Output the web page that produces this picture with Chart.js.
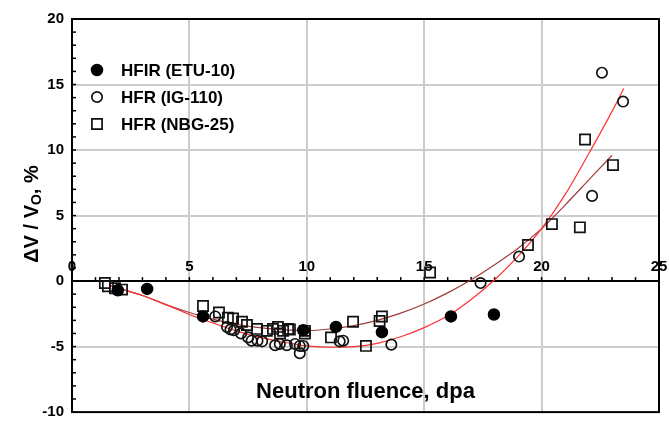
<!DOCTYPE html>
<html>
<head>
<meta charset="utf-8">
<script src="https://cdn.jsdelivr.net/npm/chart.js@4.4.0/dist/chart.umd.min.js"></script>
<style>
  html, body { margin: 0; padding: 0; background: #fff; }
  #wrap { width: 669px; height: 421px; position: relative; }
</style>
</head>
<body>
<div id="wrap"><canvas id="chart"></canvas></div>
<script>
const etuX = [1.95, 3.2, 5.58, 9.85, 11.24, 13.2, 16.14, 17.97];
const etuY = [-0.7, -0.6, -2.7, -3.75, -3.5, -3.9, -2.7, -2.55];

const igX = [6.1, 6.6, 6.75, 6.9, 7.2, 7.5, 7.65, 7.9, 8.1, 8.65, 8.85, 9.15, 9.5, 9.7, 9.7, 9.85, 11.4, 11.55, 13.6, 17.4, 19.04, 22.15, 22.57, 23.47];
const igY = [-2.7, -3.5, -3.7, -3.75, -4.0, -4.3, -4.55, -4.55, -4.6, -4.9, -4.8, -4.9, -4.8, -4.95, -5.5, -4.95, -4.6, -4.55, -4.85, -0.15, 1.87, 6.5, 15.9, 13.7];

const nbgX = [1.4, 1.53, 1.83, 2.13, 5.58, 6.26, 6.64, 6.86, 7.24, 7.45, 7.88, 8.3, 8.56, 8.77, 8.86, 8.99, 9.2, 9.28, 9.92, 9.92, 11.03, 11.97, 12.52, 13.1, 13.2, 15.25, 19.42, 20.44, 21.63, 21.85, 23.04];
const nbgY = [-0.15, -0.4, -0.55, -0.65, -1.9, -2.4, -2.8, -2.85, -3.1, -3.35, -3.65, -3.8, -3.65, -3.5, -4.0, -3.8, -3.65, -3.7, -3.8, -4.0, -4.3, -3.1, -4.95, -3.05, -2.7, 0.65, 2.75, 4.35, 4.1, 10.8, 8.85];

// fit curves
const fitAX = [1.6, 3, 4, 5, 6, 7, 8, 9, 10, 11, 12, 13, 14, 15, 16, 17, 18, 19, 20, 21, 22, 23, 23.5];
const fitAY = [-0.35, -1.1, -1.8, -2.55, -3.2, -3.8, -4.3, -4.65, -4.95, -5.05, -5.0, -4.75, -4.25, -3.55, -2.65, -1.4, 0.1, 1.9, 4.0, 6.6, 9.7, 12.95, 14.7];
const fitBX = [1.6, 3, 4, 5, 6, 7, 8, 9, 10, 11, 12, 13, 14, 15, 16, 17, 18, 19, 20, 21, 22, 23];
const fitBY = [-0.35, -1.1, -1.8, -2.4, -2.9, -3.3, -3.55, -3.72, -3.78, -3.65, -3.4, -3.0, -2.45, -1.75, -0.9, 0.1, 1.25, 2.5, 4.0, 5.8, 7.7, 9.6];

const xTicks = [0, 5, 10, 15, 20, 25];
const yTicks = [-10, -5, 0, 5, 10, 15, 20];

const pts = (xs, ys) => xs.map((x, i) => ({ x: x, y: ys[i] }));
const FONT = '"Liberation Sans", Arial, sans-serif';

// frame, minor ticks and axis titles
const decor = {
    id: 'decor',
    beforeDatasetsDraw(chart) {
        const { ctx, chartArea: a, scales: { x, y } } = chart;
        ctx.save();
        ctx.strokeStyle = '#000';
        ctx.lineWidth = 1.5;
        const y0 = y.getPixelForValue(0);
        for (let v = -10; v <= 20; v++) {
            const py = y.getPixelForValue(v);
            ctx.beginPath(); ctx.moveTo(a.left, py); ctx.lineTo(a.left + 4, py); ctx.stroke();
        }
        for (let v = 0; v <= 25; v++) {
            const px = x.getPixelForValue(v);
            ctx.beginPath(); ctx.moveTo(px, y0); ctx.lineTo(px, y0 - 4); ctx.stroke();
        }
        ctx.lineWidth = 2;
        ctx.strokeRect(a.left, a.top, a.right - a.left, a.bottom - a.top);
        ctx.restore();
    },
    afterDraw(chart) {
        const { ctx, chartArea: a } = chart;
        ctx.save();
        ctx.fillStyle = '#000';
        // x title
        ctx.font = 'bold 22px ' + FONT;
        ctx.textAlign = 'center';
        ctx.textBaseline = 'middle';
        ctx.fillText('Neutron fluence, dpa', (a.left + a.right) / 2, 392);
        // y title with subscript
        ctx.translate(32, 214);
        ctx.rotate(-Math.PI / 2);
        ctx.textAlign = 'left';
        ctx.textBaseline = 'middle';
        const big = 'bold 20px ' + FONT, small = 'bold 14px ' + FONT;
        ctx.font = big;
        const w1 = ctx.measureText('\u0394V / V').width;
        const w3 = ctx.measureText(', %').width;
        ctx.font = small;
        const w2 = ctx.measureText('O').width;
        let sx = -(w1 + w2 + w3) / 2;
        ctx.font = big; ctx.fillText('\u0394V / V', sx, 0); sx += w1;
        ctx.font = small; ctx.fillText('O', sx, 5); sx += w2;
        ctx.font = big; ctx.fillText(', %', sx, 0);
        ctx.restore();

        // legend
        ctx.save();
        const rows = [0, 1, 2];
        rows.forEach(i => {
            const ds = chart.data.datasets[i];
            const cy = 70 + i * 27, cx = 97;
            ctx.strokeStyle = ds.pointBorderColor;
            ctx.fillStyle = ds.pointBackgroundColor;
            ctx.lineWidth = ds.pointBorderWidth;
            ctx.beginPath();
            if (ds.pointStyle === 'rect') {
                const s = ds.pointRadius * Math.SQRT1_2;
                ctx.rect(cx - s, cy - s, 2 * s, 2 * s);
            } else {
                ctx.arc(cx, cy, ds.pointRadius, 0, Math.PI * 2);
            }
            ctx.fill(); ctx.stroke();
            ctx.fillStyle = '#000';
            ctx.font = 'bold 17px ' + FONT;
            ctx.textAlign = 'left';
            ctx.textBaseline = 'middle';
            ctx.fillText(ds.label, 121, cy + 1);
        });
        ctx.restore();
    }
};

new Chart(document.getElementById('chart'), {
    type: 'scatter',
    data: {
        datasets: [
            {
                label: 'HFIR (ETU-10)',
                data: pts(etuX, etuY),
                pointStyle: 'circle', pointRadius: 5.5,
                pointBackgroundColor: '#000', pointBorderColor: '#000', pointBorderWidth: 1.5
            },
            {
                label: 'HFR (IG-110)',
                data: pts(igX, igY),
                pointStyle: 'circle', pointRadius: 5.2,
                pointBackgroundColor: 'rgba(0,0,0,0)', pointBorderColor: '#111', pointBorderWidth: 1.7
            },
            {
                label: 'HFR (NBG-25)',
                data: pts(nbgX, nbgY),
                pointStyle: 'rect', pointRadius: 7.2,
                pointBackgroundColor: 'rgba(0,0,0,0)', pointBorderColor: '#111', pointBorderWidth: 1.7
            },
            {
                label: 'fit 1',
                data: pts(fitAX, fitAY),
                showLine: true, pointRadius: 0,
                borderColor: '#ff3030', borderWidth: 1.2, cubicInterpolationMode: 'monotone'
            },
            {
                label: 'fit 2',
                data: pts(fitBX, fitBY),
                showLine: true, pointRadius: 0,
                borderColor: '#a03c3c', borderWidth: 1.2, cubicInterpolationMode: 'monotone'
            }
        ]
    },
    options: {
        responsive: true,
        maintainAspectRatio: false,
        animation: false,
        events: [],
        layout: { padding: { left: 0, top: 19, right: 10, bottom: 1 } },
        plugins: { legend: { display: false }, tooltip: { enabled: false } },
        scales: {
            x: {
                type: 'linear',
                min: 0, max: 25,
                position: { y: 0 },
                afterBuildTicks: s => { s.ticks = xTicks.map(v => ({ value: v })); },
                afterFit: s => { s.paddingLeft = 0; s.paddingRight = 0; },
                border: { display: true, color: '#000', width: 2 },
                grid: {
                    drawTicks: false,
                    lineWidth: 2,
                    color: c => (c.tick && (c.tick.value === 0 || c.tick.value === 25)) ? 'rgba(0,0,0,0)' : '#cccccc'
                },
                ticks: {
                    autoSkip: false, maxRotation: 0, padding: -23,
                    color: '#000', font: { family: FONT, size: 15, weight: 'bold' }
                }
            },
            y: {
                type: 'linear',
                min: -10, max: 20,
                afterBuildTicks: s => { s.ticks = yTicks.map(v => ({ value: v })); },
                afterFit: s => { s.width = 72; s.paddingTop = 0; s.paddingBottom = 0; },
                border: { display: true, color: '#000', width: 2 },
                grid: {
                    drawTicks: false,
                    lineWidth: 2,
                    color: c => (c.tick && (c.tick.value === 0 || c.tick.value === 20 || c.tick.value === -10)) ? 'rgba(0,0,0,0)' : '#cccccc'
                },
                ticks: {
                    autoSkip: false, padding: 8,
                    color: '#000', font: { family: FONT, size: 15, weight: 'bold' }
                }
            }
        }
    },
    plugins: [decor]
});
</script>
</body>
</html>
